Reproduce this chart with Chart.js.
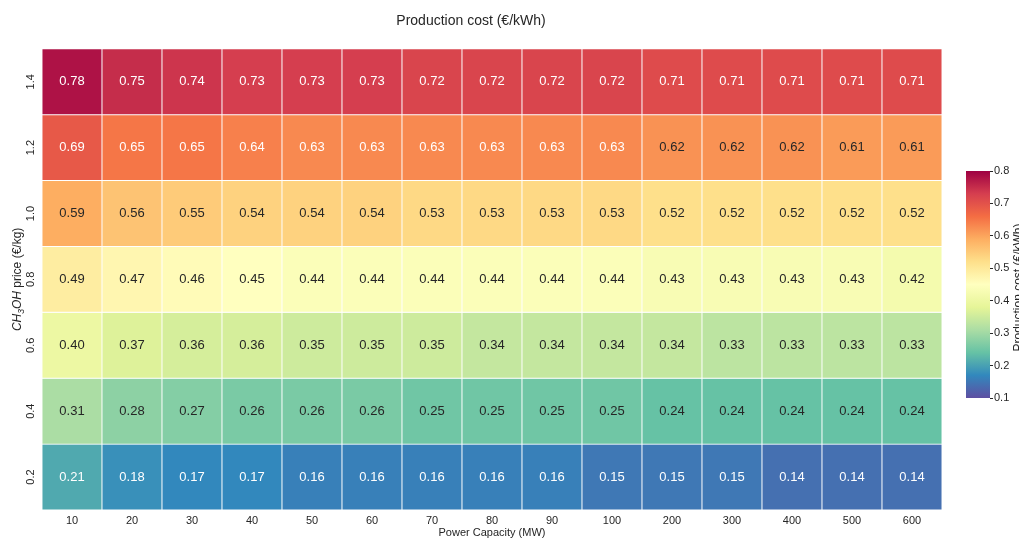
<!DOCTYPE html>
<html lang="en">
<head>
<meta charset="UTF-8">
<title>Production cost heatmap</title>
<style>
    body { margin: 0; background: #fff; }
    #wrap { position: relative; width: 1019px; height: 540px; }
    #heat { position: absolute; left: 0; top: 0; }
    #cbar { position: absolute; left: 942px; top: 0; }
</style>
</head>
<body>
<div id="wrap">
    <canvas id="heat" width="1019" height="540"></canvas>
    <canvas id="cbar" width="77" height="540"></canvas>
</div>

<script src="https://cdn.jsdelivr.net/npm/chart.js"></script>

<script>
    // x categories (MW) and y rows (CH3OH price, €/kg), top row first
    const capacities = ['10', '20', '30', '40', '50', '60', '70', '80', '90', '100', '200', '300', '400', '500', '600'];
    const prices = [1.4, 1.2, 1.0, 0.8, 0.6, 0.4, 0.2];

    // production cost (€/kWh) per row
    const cost14 = [0.78, 0.75, 0.74, 0.73, 0.73, 0.73, 0.72, 0.72, 0.72, 0.72, 0.71, 0.71, 0.71, 0.71, 0.71];
    const cost12 = [0.69, 0.65, 0.65, 0.64, 0.63, 0.63, 0.63, 0.63, 0.63, 0.63, 0.62, 0.62, 0.62, 0.61, 0.61];
    const cost10 = [0.59, 0.56, 0.55, 0.54, 0.54, 0.54, 0.53, 0.53, 0.53, 0.53, 0.52, 0.52, 0.52, 0.52, 0.52];
    const cost08 = [0.49, 0.47, 0.46, 0.45, 0.44, 0.44, 0.44, 0.44, 0.44, 0.44, 0.43, 0.43, 0.43, 0.43, 0.42];
    const cost06 = [0.40, 0.37, 0.36, 0.36, 0.35, 0.35, 0.35, 0.34, 0.34, 0.34, 0.34, 0.33, 0.33, 0.33, 0.33];
    const cost04 = [0.31, 0.28, 0.27, 0.26, 0.26, 0.26, 0.25, 0.25, 0.25, 0.25, 0.24, 0.24, 0.24, 0.24, 0.24];
    const cost02 = [0.21, 0.18, 0.17, 0.17, 0.16, 0.16, 0.16, 0.16, 0.16, 0.15, 0.15, 0.15, 0.14, 0.14, 0.14];
    const costRows = [cost14, cost12, cost10, cost08, cost06, cost04, cost02];

    // colour bar range and ticks
    const cbMin = 0.1;
    const cbMax = 0.8;
    const cbTicks = [0.1, 0.2, 0.3, 0.4, 0.5, 0.6, 0.7, 0.8];

    const FONT = '"Liberation Sans", Arial, sans-serif';
    const TXT = '#262626';
    Chart.defaults.font.family = FONT;

    // Spectral_r colour map
    const spectralR = ['#5e4fa2', '#3288bd', '#66c2a5', '#abdda4', '#e6f598', '#ffffbf',
                       '#fee08b', '#fdae61', '#f46d43', '#d53e4f', '#9e0142'];
    function hexRgb(h) {
        return [parseInt(h.slice(1, 3), 16), parseInt(h.slice(3, 5), 16), parseInt(h.slice(5, 7), 16)];
    }
    function cmapRgb(v) {
        let t = (v - cbMin) / (cbMax - cbMin);
        t = Math.max(0, Math.min(1, t));
        const p = t * (spectralR.length - 1);
        const i = Math.min(spectralR.length - 2, Math.floor(p));
        const f = p - i;
        const a = hexRgb(spectralR[i]), b = hexRgb(spectralR[i + 1]);
        return a.map((c, k) => Math.round(c + (b[k] - c) * f));
    }
    function cmap(v) {
        const c = cmapRgb(v);
        return 'rgb(' + c[0] + ',' + c[1] + ',' + c[2] + ')';
    }
    // white text on dark cells, dark text on light ones
    function textColor(v) {
        const c = cmapRgb(v).map(x => {
            x = x / 255;
            return x <= 0.03928 ? x / 12.92 : Math.pow((x + 0.055) / 1.055, 2.4);
        });
        const lum = 0.2126 * c[0] + 0.7152 * c[1] + 0.0722 * c[2];
        return lum < 0.408 ? '#ffffff' : TXT;
    }

    const datasets = prices.map((p, r) => ({
        label: p.toFixed(1),
        data: costRows[r].map(() => [p - 0.1, p + 0.1]),
        costs: costRows[r],
        backgroundColor: costRows[r].map(v => cmap(v)),
        borderColor: '#ffffff',
        borderWidth: 0.8,
        borderSkipped: false,
        barPercentage: 1,
        categoryPercentage: 1,
        grouped: false
    }));

    const cellText = {
        id: 'cellText',
        afterDatasetsDraw(chart) {
            const ctx = chart.ctx;
            ctx.save();
            ctx.font = '13px ' + FONT;
            ctx.textAlign = 'center';
            ctx.textBaseline = 'middle';
            chart.data.datasets.forEach((ds, i) => {
                chart.getDatasetMeta(i).data.forEach((bar, j) => {
                    const v = ds.costs[j];
                    ctx.fillStyle = textColor(v);
                    ctx.fillText(v.toFixed(2), bar.x, (bar.y + bar.base) / 2);
                });
            });
            ctx.restore();
        }
    };

    // rotated y tick labels and the y title with subscript
    const yLabels = {
        id: 'yLabels',
        afterDraw(chart) {
            const ctx = chart.ctx;
            const ys = chart.scales.y;
            ctx.save();
            ctx.fillStyle = TXT;
            ctx.textAlign = 'center';
            ctx.textBaseline = 'middle';
            ctx.font = '11px ' + FONT;
            prices.forEach(p => {
                ctx.save();
                ctx.translate(31, ys.getPixelForValue(p));
                ctx.rotate(-Math.PI / 2);
                ctx.fillText(p.toFixed(1), 0, 0);
                ctx.restore();
            });

            const parts = [
                {t: 'CH', f: 'italic 12px ' + FONT, dy: 0},
                {t: '3', f: 'italic 8.5px ' + FONT, dy: 2.5},
                {t: 'OH', f: 'italic 12px ' + FONT, dy: 0},
                {t: ' price (€/kg)', f: '12px ' + FONT, dy: 0}
            ];
            let total = 0;
            parts.forEach(pt => { ctx.font = pt.f; pt.w = ctx.measureText(pt.t).width; total += pt.w; });
            const ca = chart.chartArea;
            ctx.translate(21, (ca.top + ca.bottom) / 2);
            ctx.rotate(-Math.PI / 2);
            ctx.textAlign = 'left';
            ctx.textBaseline = 'alphabetic';
            let x = -total / 2;
            parts.forEach(pt => {
                ctx.font = pt.f;
                ctx.fillText(pt.t, x, pt.dy);
                x += pt.w;
            });
            ctx.restore();
        }
    };

    new Chart(document.getElementById('heat'), {
        type: 'bar',
        data: {labels: capacities, datasets: datasets},
        options: {
            responsive: false,
            animation: false,
            layout: {padding: {right: 77}},
            plugins: {
                legend: {display: false},
                tooltip: {enabled: false},
                title: {
                    display: true,
                    text: 'Production cost (€/kWh)',
                    color: TXT,
                    font: {size: 14, weight: 'normal'},
                    padding: {top: 13, bottom: 19}
                }
            },
            scales: {
                x: {
                    offset: true,
                    grid: {display: false, drawTicks: false},
                    border: {display: false},
                    ticks: {color: TXT, font: {size: 11}, padding: 4, maxRotation: 0, autoSkip: false},
                    title: {display: true, text: 'Power Capacity (MW)', color: TXT, font: {size: 11}, padding: 0},
                    afterFit(s) { s.height = 30; }
                },
                y: {
                    min: 0.1,
                    max: 1.5,
                    grid: {display: false, drawTicks: false},
                    border: {display: false},
                    ticks: {display: false},
                    afterBuildTicks(s) { s.ticks = prices.map(v => ({value: v})); },
                    afterFit(s) { s.width = 42; }
                }
            }
        },
        plugins: [cellText, yLabels]
    });

    // colour bar
    const cbTitle = {
        id: 'cbTitle',
        afterDraw(chart) {
            const ctx = chart.ctx;
            const ca = chart.chartArea;
            ctx.save();
            ctx.fillStyle = TXT;
            ctx.font = '12px ' + FONT;
            ctx.textAlign = 'center';
            ctx.textBaseline = 'alphabetic';
            ctx.translate(80, (ca.top + ca.bottom) / 2 + 3);
            ctx.rotate(-Math.PI / 2);
            ctx.fillText('Production cost (€/kWh)', 0, 0);
            ctx.restore();
        }
    };

    new Chart(document.getElementById('cbar'), {
        type: 'bar',
        data: {
            labels: ['cb'],
            datasets: [{
                data: [[cbMin, cbMax]],
                backgroundColor(c) {
                    const ca = c.chart.chartArea;
                    if (!ca) return spectralR[0];
                    const g = c.chart.ctx.createLinearGradient(0, ca.bottom, 0, ca.top);
                    spectralR.forEach((col, i) => g.addColorStop(i / (spectralR.length - 1), col));
                    return g;
                },
                borderWidth: 0,
                barPercentage: 1,
                categoryPercentage: 1
            }]
        },
        options: {
            responsive: false,
            animation: false,
            layout: {padding: {left: 24, top: 171, bottom: 142}},
            plugins: {legend: {display: false}, tooltip: {enabled: false}},
            scales: {
                x: {display: false},
                y: {
                    position: 'right',
                    min: cbMin,
                    max: cbMax,
                    afterBuildTicks(s) { s.ticks = cbTicks.map(v => ({value: v})); },
                    ticks: {color: TXT, font: {size: 11}, padding: 1, callback: v => v.toFixed(1)},
                    grid: {drawOnChartArea: false, tickLength: 3, color: TXT},
                    border: {display: false},
                    afterFit(s) { s.width = 29; }
                }
            }
        },
        plugins: [cbTitle]
    });
</script>
</body>
</html>
